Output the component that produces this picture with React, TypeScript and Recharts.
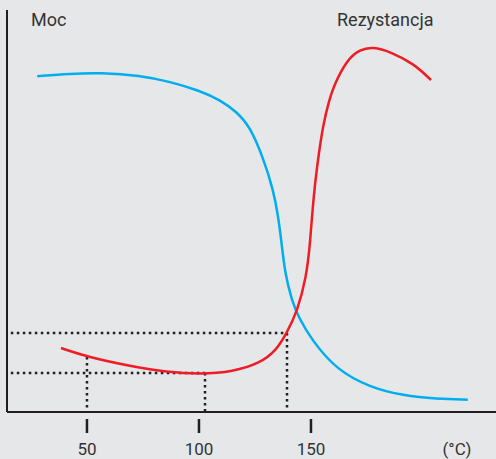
import React from 'react';
import { LineChart, Line, XAxis, YAxis, ReferenceLine } from 'recharts';

// temperature (°C) and relative level
const mocTemp = [27.8, 42.4, 55.8, 73.7, 87.1, 100.4, 109.4, 116.8, 122.8, 128.7, 133.2, 135.4, 136.9, 138.4, 141.4, 144.3, 150.3, 161.5, 176.3, 191.2, 206.1, 220.0];
const mocValue = [335.7, 338.3, 339.3, 336.7, 330.3, 321.3, 312, 300.3, 285.3, 254, 222, 195.3, 168.7, 138.7, 112, 95.3, 72, 42, 24.7, 16.3, 13, 12.3];

const rezTemp = [38.4, 49.9, 70.7, 85.6, 100.4, 115.3, 127.2, 134.7, 139.2, 143.8, 148.0, 149.6, 151.0, 152.7, 155.5, 158.2, 160.0, 165.9, 171.9, 177.8, 185.3, 195.7, 203.6];
const rezValue = [64, 55.3, 45.3, 40, 37.7, 40.3, 48.7, 62, 79.3, 100, 135.3, 168.7, 212, 246, 289, 312, 325.3, 352, 362.7, 365.3, 360.3, 348.7, 332];

const tempTicks = [50, 100, 150];

// dotted guide lines: [temperature, level]
const hGuides = [
  [102.7, 39],
  [139.3, 79],
];
const vGuides = [
  [50, 55],
  [102.7, 39],
  [139.3, 79],
];

const mocData = mocTemp.map((t, i) => ({ t, v: mocValue[i] }));
const rezData = rezTemp.map((t, i) => ({ t, v: rezValue[i] }));

const AXIS = '#231f20';
const TEXT = '#333333';
const FONT = 'Roboto, "DejaVu Sans", sans-serif';

const TempTick = (props: any) => {
  const { x, y, payload } = props;
  return (
    <g>
      <line x1={x} x2={x} y1={y + 7} y2={y + 21} stroke={AXIS} strokeWidth={2.5} />
      <text x={x} y={y + 43} textAnchor="middle" fill={TEXT} fontSize={17} fontFamily={FONT}>
        {payload.value}
      </text>
    </g>
  );
};

export default function App() {
  return (
    <div style={{ position: 'absolute', left: 0, top: 0, width: 496, height: 459, background: '#e6e7e9' }}>
      <LineChart width={496} height={459} margin={{ top: 10, right: 0, bottom: 0, left: 0 }}>
        <XAxis
          type="number"
          dataKey="t"
          domain={[14.3, 232.6]}
          ticks={tempTicks}
          height={47}
          tickSize={0}
          tickMargin={0}
          tickLine={false}
          tick={<TempTick />}
          axisLine={{ stroke: AXIS, strokeWidth: 2 }}
          allowDataOverflow
        />
        <YAxis
          type="number"
          domain={[0, 402]}
          width={7}
          tick={false}
          tickLine={false}
          axisLine={{ stroke: AXIS, strokeWidth: 2 }}
          allowDataOverflow
        />
        {hGuides.map(([t, v], i) => (
          <ReferenceLine
            key={`h${i}`}
            segment={[{ x: 16, y: v }, { x: t, y: v }]}
            stroke={AXIS}
            strokeWidth={2.5}
            strokeDasharray="2.5 3.5"
            ifOverflow="visible"
          />
        ))}
        {vGuides.map(([t, v], i) => (
          <ReferenceLine
            key={`v${i}`}
            segment={[{ x: t, y: v }, { x: t, y: 0 }]}
            stroke={AXIS}
            strokeWidth={2.5}
            strokeDasharray="2.5 3.5"
            ifOverflow="visible"
          />
        ))}
        <Line data={mocData} dataKey="v" type="basis" stroke="#00aeef" strokeWidth={2.5} dot={false} isAnimationActive={false} />
        <Line data={rezData} dataKey="v" type="basis" stroke="#ee1c25" strokeWidth={2.5} dot={false} isAnimationActive={false} />
        <text x={31} y={26} fill={TEXT} fontSize={18} fontFamily={FONT}>Moc</text>
        <text x={337} y={26} fill={TEXT} fontSize={18} fontFamily={FONT}>Rezystancja</text>
        <text x={457} y={455} textAnchor="middle" fill={TEXT} fontSize={17} fontFamily={FONT}>(°C)</text>
      </LineChart>
    </div>
  );
}
